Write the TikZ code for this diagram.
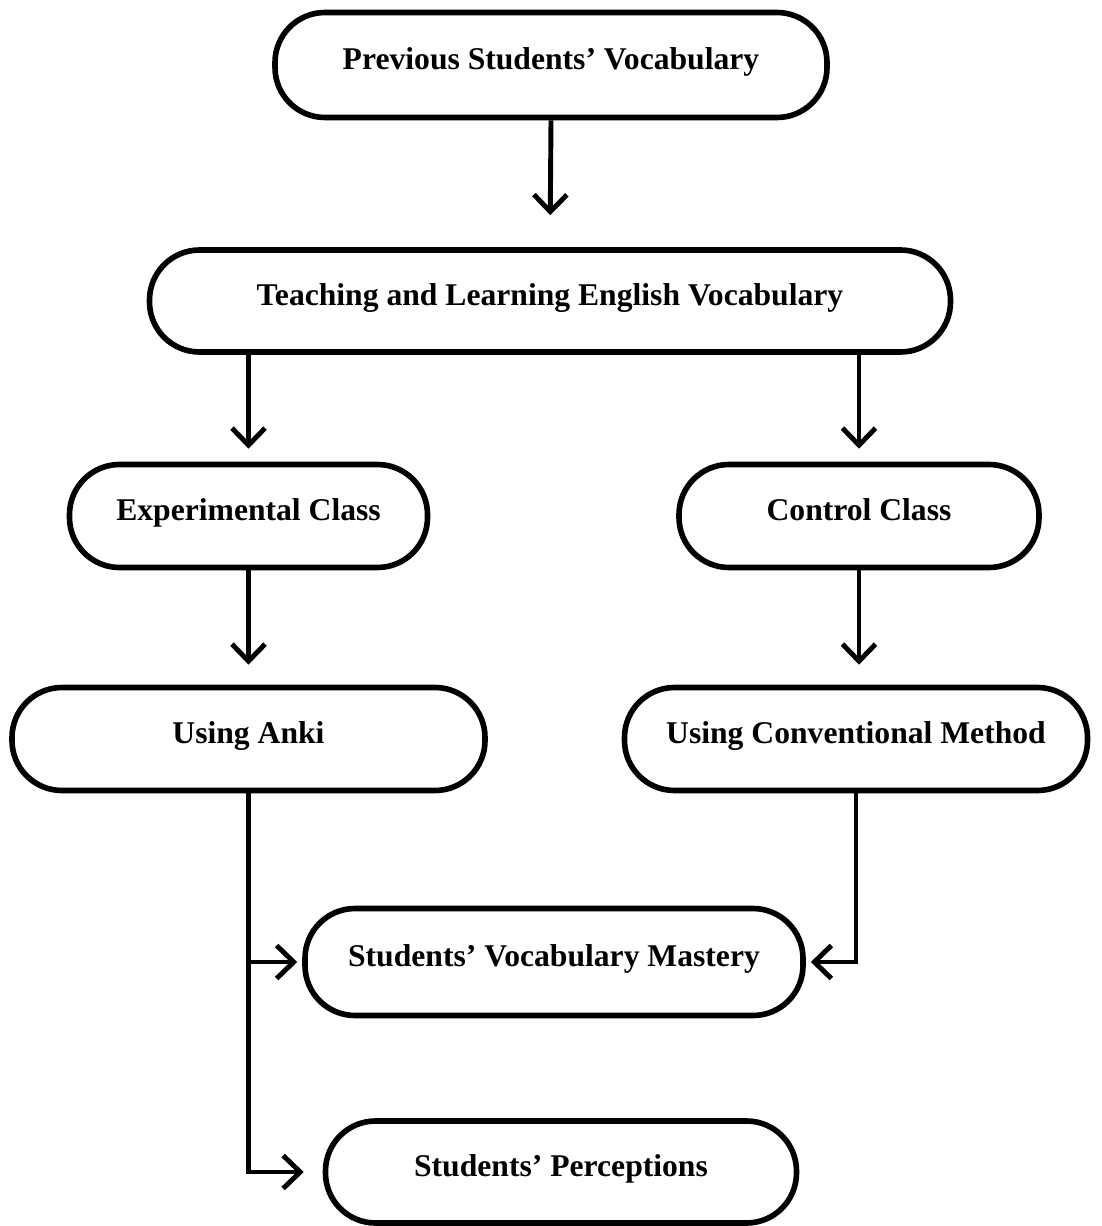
\documentclass[tikz,border=0pt]{standalone}
\usepackage{fontspec}
\setmainfont{Liberation Serif}
\usepackage{tikz}
\usetikzlibrary{arrows.meta, positioning}

\begin{document}
\begin{tikzpicture}[
    stage/.style={rectangle, draw, line width=3.2pt, rounded corners=1cm, fill=white, text centered, font=\fontsize{18}{21}\selectfont\bfseries, text height=0.7em, text depth=0.22em, minimum height=2.06cm},
    arrow/.style={-{Straight Barb[length=3.4mm, width=6.6mm]}, line width=2.8pt},
    line/.style={line width=2.8pt}
]
    \useasboundingbox (0,0) rectangle (22.02,-24.52);
    \node [stage, minimum width=11.04cm, minimum height=2.1cm] (prior) at (11.02,-1.30) {Previous Students’ Vocabulary};
    \node [stage, minimum width=16.02cm, minimum height=2.04cm] (teaching) at (11.0,-6.02) {Teaching and Learning English Vocabulary};
    \node [stage, minimum width=7.16cm] (experiment) at (4.97,-10.32) {Experimental Class};
    \node [stage, minimum width=7.2cm] (control) at (17.18,-10.32) {Control Class};
    \node [stage, minimum width=9.46cm] (anki) at (4.97,-14.78) {Using Anki};
    \node [stage, minimum width=9.26cm] (conventional) at (17.12,-14.78) {Using Conventional Method};
    \node [stage, minimum width=9.96cm, minimum height=2.14cm] (mastery) at (11.08,-19.24) {Students’ Vocabulary Mastery};
    \node [stage, minimum width=9.42cm, minimum height=2.04cm] (perception) at (11.22,-23.44) {Students’ Perceptions};
    \draw [arrow, shorten >=0.64cm] (prior.south) -- (teaching.north);
    \draw [arrow, shorten >=0.26cm] (teaching.south -| experiment) -- (experiment.north);
    \draw [arrow, shorten >=0.26cm] (teaching.south -| control) -- (control.north);
    \draw [arrow, shorten >=0.4cm] (experiment.south) -- (anki.north);
    \draw [arrow, shorten >=0.4cm] (control.south) -- (control.south |- conventional.north);
    \draw [arrow, shorten >=0.38cm] (anki.south) |- (perception.west);
    \draw [arrow, shorten >=0.1cm] (anki.south |- mastery.west) -- (mastery.west);
    \draw [arrow, shorten >=0.1cm] (conventional.south) |- (mastery.east);
\end{tikzpicture}
\end{document}
